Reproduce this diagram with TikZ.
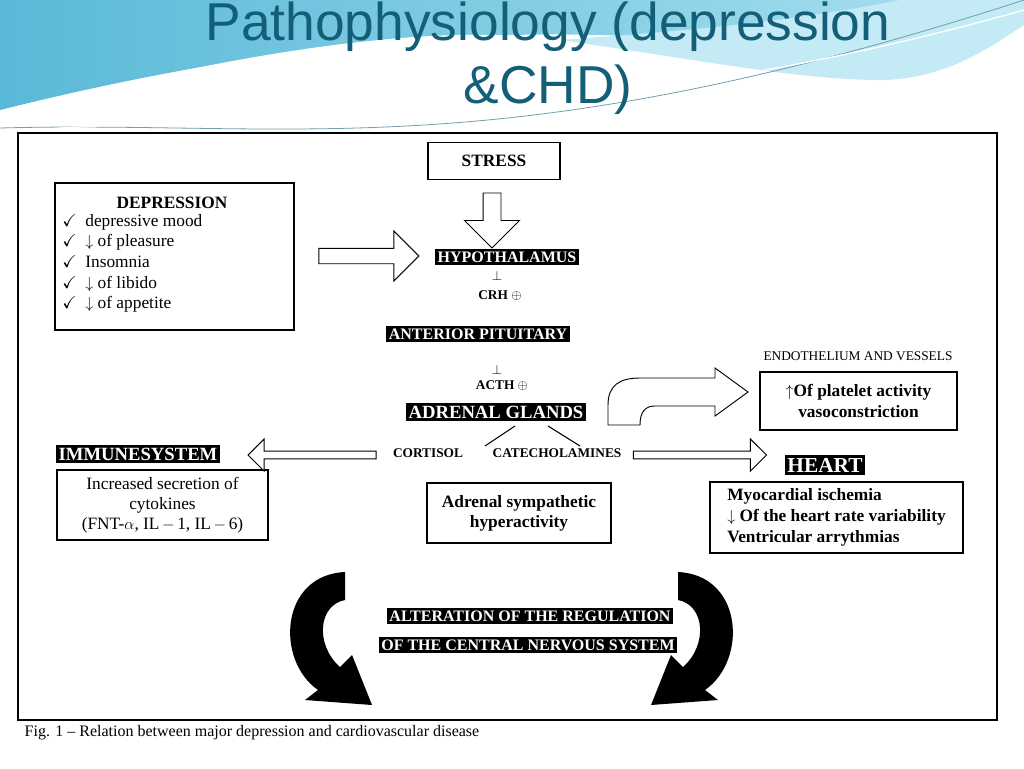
\documentclass[tikz,border=0pt]{standalone}
\usepackage{fontspec}
\setmainfont{Liberation Serif}
\newfontfamily\titlefont{Liberation Sans}
\usepackage{amssymb}
\usetikzlibrary{shapes.arrows,calc}
\definecolor{teal1}{RGB}{20,95,120}
\definecolor{wave1}{RGB}{90,185,215}
\definecolor{wave2}{RGB}{170,225,240}
\tikzset{
 box/.style={draw,line width=0.8pt,inner sep=0pt},
 blk/.style={fill=black,text=white,font=\bfseries\fontsize{12}{12}\selectfont,inner sep=2pt},
 hollow/.style={draw,line width=0.7pt,fill=white},
 txt/.style={font=\fontsize{13}{15}\selectfont,align=center},
}
\begin{document}
\begin{tikzpicture}[x=0.75pt,y=-0.75pt]
\useasboundingbox (0,0) rectangle (1024,768);
% background waves
\shade[left color=wave1,right color=wave2] (0,0) -- (1024,0) -- (1024,20) .. controls (900,60) and (760,40) .. (600,35) .. controls (400,30) and (200,60) .. (0,110) -- cycle;
\fill[white] (0,115) .. controls (200,60) and (420,20) .. (560,40) .. controls (700,60) and (760,70) .. (800,90) .. controls (600,60) and (300,90) .. (0,125) -- cycle;
\fill[wave2!70] (560,40) .. controls (700,60) and (800,80) .. (880,80) .. controls (950,80) and (1000,40) .. (1024,25) -- (1024,0) -- (900,0) .. controls (800,20) and (700,30) .. (560,40);
\draw[teal1!60,line width=0.6pt] (0,128) .. controls (300,120) and (500,170) .. (1024,0);
\draw[white,line width=1pt] (0,132) .. controls (300,110) and (600,130) .. (1024,10);
\node[font=\titlefont\fontsize{40}{47}\selectfont,text=teal1,align=center] (title) at (548,58) {Pathophysiology (depression\\\&CHD)};
% frame
\node[box,minimum width=979*0.75pt,minimum height=587*0.75pt,fill=white] (frame) at (507.5,426.5) {};
\node[font=\fontsize{12}{12}\selectfont,anchor=west] (cap) at (20,733) {Fig. 1 -- Relation between major depression and cardiovascular disease};
% stress
\node[box,minimum width=132*0.75pt,minimum height=37*0.75pt,font=\bfseries\fontsize{13}{13}\selectfont] (stress) at (494,161) {STRESS};
\node[single arrow,hollow,shape border rotate=270,minimum width=55*0.75pt,single arrow head extend=12*0.75pt,minimum height=55*0.75pt,inner sep=4pt] (a1) at (492,216) {};
% depression
\node[box,minimum width=239*0.75pt,minimum height=147*0.75pt] (dep) at (174.5,256.5) {};
\node[font=\bfseries\fontsize{13}{13}\selectfont] (deptitle) at (172,203) {DEPRESSION};
\node[anchor=north west,font=\fontsize{13}{15.5}\selectfont,align=left,inner sep=0pt] (deplist) at (62,214) {\checkmark\ \ depressive mood\\\checkmark\ \ $\downarrow$ of pleasure\\\checkmark\ \ Insomnia\\\checkmark\ \ $\downarrow$ of libido\\\checkmark\ \ $\downarrow$ of appetite};
\node[single arrow,hollow,minimum width=50*0.75pt,single arrow head extend=10*0.75pt,minimum height=100*0.75pt,inner sep=3pt] (a2) at (365,256) {};
% chain
\node[blk] (hyp) at (507,257) {HYPOTHALAMUS};
\node[font=\fontsize{10}{10}\selectfont] (perp1) at (497,276) {$\perp$};
\node[font=\bfseries\fontsize{10}{10}\selectfont] (crh) at (500,296) {CRH $\oplus$};
\node[blk] (ant) at (478,334) {ANTERIOR PITUITARY};
\node[font=\fontsize{10}{10}\selectfont] (perp2) at (497,370) {$\perp$};
\node[font=\bfseries\fontsize{10}{10}\selectfont] (acth) at (502,386) {ACTH $\oplus$};
\node[blk,font=\bfseries\fontsize{14}{14}\selectfont] (adr) at (496,412) {ADRENAL GLANDS};
\node[font=\bfseries\fontsize{10}{10}\selectfont] (cort) at (428,453) {CORTISOL};
\node[font=\bfseries\fontsize{10}{10}\selectfont] (cat) at (557,453) {CATECHOLAMINES};
\draw[line width=0.8pt] (515,426) -- (485,446);
\draw[line width=0.8pt] (548,426) -- (580,446);
% endothelium
\node[font=\fontsize{10}{10}\selectfont] (endt) at (858,356) {ENDOTHELIUM AND VESSELS};
\node[box,minimum width=197*0.75pt,minimum height=58*0.75pt,txt,font=\bfseries\fontsize{13}{16}\selectfont] (endo) at (858.5,401) {$\uparrow$Of platelet activity\\vasoconstriction};
\draw[hollow] (608,425) -- (608,405) .. controls (608,385) and (620,378) .. (640,378) -- (715,378) -- (715,368) -- (748,392) -- (715,416) -- (715,406) -- (655,406) .. controls (645,406) and (640,412) .. (640,425) -- cycle;
% immune
\node[blk,font=\bfseries\fontsize{14}{14}\selectfont] (imm) at (138,454) {IMMUNESYSTEM};
\node[box,minimum width=211*0.75pt,minimum height=70*0.75pt,txt] (immb) at (162.5,505) {Increased secretion of\\cytokines\\(FNT-$\alpha$, IL$\,-\,$1, IL$\,-\,$6)};
\node[single arrow,hollow,shape border rotate=180,minimum width=32*0.75pt,single arrow head extend=10*0.75pt,minimum height=128*0.75pt,inner sep=2pt] (a3) at (314,455) {};
\node[single arrow,hollow,minimum width=32*0.75pt,single arrow head extend=10*0.75pt,minimum height=133*0.75pt,inner sep=2pt] (a4) at (698,455) {};
% heart
\node[blk,font=\bfseries\fontsize{16}{16}\selectfont] (heart) at (825,465) {HEART};
\node[box,minimum width=253*0.75pt,minimum height=71*0.75pt,font=\bfseries\fontsize{13}{15.5}\selectfont,align=left] (heartb) at (836.5,517.5) {Myocardial ischemia\\$\downarrow$ Of the heart rate variability\\Ventricular arrythmias};
\node[box,minimum width=184*0.75pt,minimum height=60*0.75pt,txt,font=\bfseries\fontsize{13}{15}\selectfont] (sym) at (519,513) {Adrenal sympathetic\\hyperactivity};
% black arrows
\fill (345,572) .. controls (280,575) and (275,660) .. (318,690) -- (305,700) -- (372,705) -- (352,655) -- (340,667) .. controls (315,645) and (318,605) .. (345,600) -- cycle;
\begin{scope}[xshift=1023*0.75pt,xscale=-1]
\fill (345,572) .. controls (280,575) and (275,660) .. (318,690) -- (305,700) -- (372,705) -- (352,655) -- (340,667) .. controls (315,645) and (318,605) .. (345,600) -- cycle;
\end{scope}
\node[blk] (alt1) at (530,616) {ALTERATION OF THE REGULATION};
\node[blk] (alt2) at (528,645) {OF THE CENTRAL NERVOUS SYSTEM};
\end{tikzpicture}
\end{document}
